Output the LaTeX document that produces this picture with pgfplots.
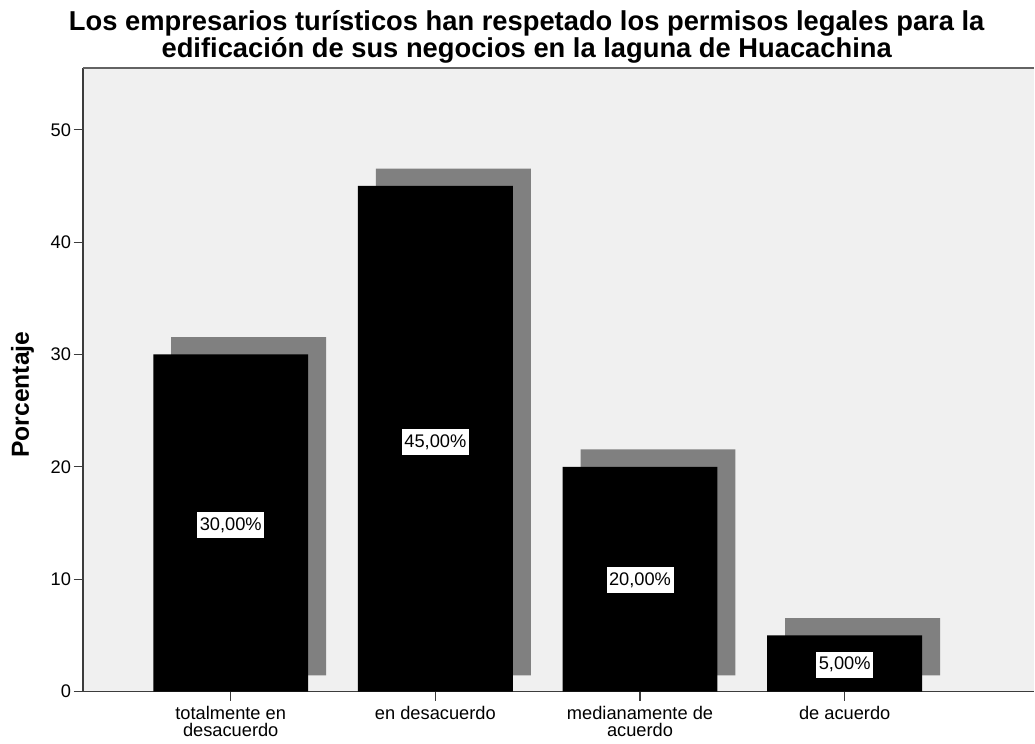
\documentclass[border=0pt]{standalone}
\usepackage{pgfplots}
\pgfplotsset{compat=1.18}
\usepackage{fontspec}
\setmainfont{Liberation Sans}
\definecolor{bgc}{HTML}{F0F0F0}
\definecolor{shadow}{HTML}{808080}
\definecolor{axc}{HTML}{3C3C3C}
\begin{document}
\begin{tikzpicture}
\pgfplotsset{
  common/.style={
    scale only axis, width=714pt, height=468pt,
    at={(0,0)}, anchor=south west,
    xmin=-0.722, xmax=3.927, ymin=0, ymax=55.5,
  }
}
% background and shadows
\begin{axis}[common,
  axis background/.style={fill=bgc},
  axis line style={draw=none},
  xtick=\empty, ytick=\empty,
  ybar stacked, bar width=116.25pt, bar shift=13.5pt,
]
\addplot[draw=none, fill=none] coordinates {(0,1.45) (1,1.45) (2,1.45) (3,1.45)};
\addplot[draw=none, fill=shadow] coordinates {(0,30.1) (1,45.1) (2,20.1) (3,5.1)};
\end{axis}
% main bars
\begin{axis}[common,
  axis x line*=bottom, axis y line*=left,
  axis line style={-, draw=axc, line width=0.9pt},
  ybar, bar width=116.25pt, bar shift=0pt,
  ytick={0,10,20,30,40,50},
  xtick={0,1,2,3},
  xticklabels={{totalmente en\\desacuerdo},{en desacuerdo},{medianamente de\\acuerdo},{de acuerdo}},
  tick align=outside, major tick length=7pt,
  tick style={draw=axc, line width=0.9pt},
  /pgf/number format/assume math mode=true,
  yticklabel style={font=\fontsize{13.7}{15}\selectfont, xshift=1.5pt},
  xticklabel style={font=\fontsize{13.7}{12.75}\selectfont, align=center, yshift=-0.5pt},
  ylabel={Porcentaje},
  every axis y label/.style={at={(rel axis cs:0,0.476)}, xshift=-45.4pt, rotate=90, anchor=center, font=\fontsize{18.5}{20}\selectfont\bfseries},
  clip=false,
]
\addplot[draw=none, fill=black] coordinates {(0,30) (1,45) (2,20) (3,5)};
\addplot[only marks, mark=none, point meta=explicit symbolic,
  nodes near coords,
  nodes near coords style={anchor=center, fill=white, inner xsep=1.9pt, inner ysep=4pt, font=\fontsize{13.7}{15}\selectfont}]
  coordinates {(0,14.8) [30,00\%] (1,22.2) [45,00\%] (2,9.9) [20,00\%] (3,2.4) [5,00\%]};
\draw[draw=axc!80, line width=0.9pt] (rel axis cs:0,1) -- (rel axis cs:1,1);
\end{axis}
\node[align=center, font=\fontsize{20.5}{18}\selectfont\bfseries] at (333pt,491.5pt)
  {Los empresarios turísticos han respetado los permisos legales para la\\edificación de sus negocios en la laguna de Huacachina};
\path[use as bounding box] (-62.25pt,-39pt) rectangle (714pt,519pt);
\end{tikzpicture}
\end{document}
